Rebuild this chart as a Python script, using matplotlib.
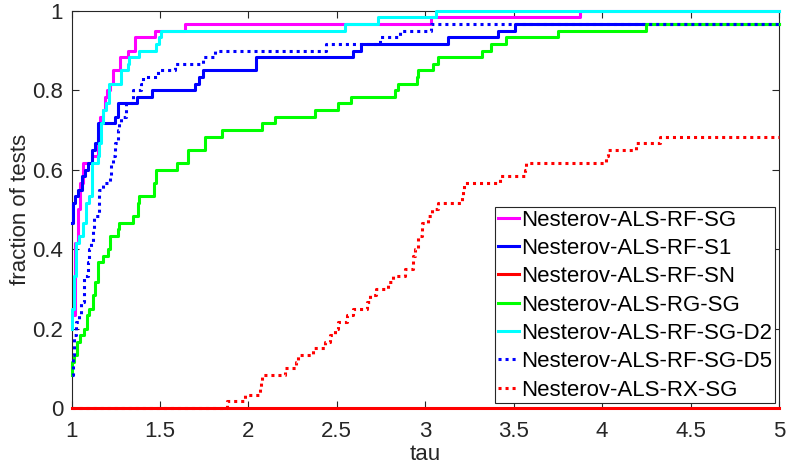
import numpy as np
import matplotlib
matplotlib.use("Agg")
import matplotlib.pyplot as plt

# performance profile, 60 test problems
n_tests = 60
tau_max = 5

tau_rf_sg = [1.0, 1.02, 1.037, 1.048, 1.065, 1.116, 1.15, 1.161, 1.18, 1.19, 1.199,
             1.218, 1.236, 1.274, 1.321, 1.359, 1.472, 1.641, 3.035, 3.877]
cnt_rf_sg = [14, 25, 30, 34, 37, 38, 41, 44, 45, 47, 48,
             49, 51, 53, 54, 56, 57, 58, 59, 60]

tau_rf_s1 = [1.0, 1.006, 1.02, 1.038, 1.057, 1.076, 1.095, 1.114, 1.132, 1.15, 1.246,
             1.265, 1.368, 1.453, 1.70, 1.72, 1.745, 2.042, 2.592, 2.638, 3.13, 3.41, 3.506]
cnt_rf_s1 = [28, 31, 32, 33, 35, 36, 37, 39, 40, 43, 44,
             46, 47, 48, 49, 50, 51, 53, 54, 55, 56, 57, 58]

tau_rf_sn = [1.0]
cnt_rf_sn = [0]

tau_rg_sg = [1.0, 1.005, 1.015, 1.03, 1.05, 1.07, 1.085, 1.1, 1.12, 1.135, 1.15, 1.18,
             1.205, 1.218, 1.26, 1.27, 1.346, 1.375, 1.383, 1.465, 1.475, 1.594, 1.66,
             1.754, 1.849, 2.075, 2.148, 2.376, 2.507, 2.583, 2.828, 2.846, 2.955, 2.96,
             3.044, 3.072, 3.322, 3.37, 3.459, 3.75, 4.25]
cnt_rg_sg = [5, 7, 8, 10, 11, 12, 14, 15, 17, 19, 22, 23,
             24, 26, 27, 28, 29, 31, 32, 34, 36, 37, 39,
             41, 42, 43, 44, 45, 46, 47, 48, 49, 50, 51,
             52, 53, 54, 55, 56, 57, 58]

tau_rf_sg_d2 = [1.0, 1.003, 1.014, 1.025, 1.044, 1.063, 1.082, 1.1, 1.116, 1.148, 1.157,
                1.167, 1.176, 1.195, 1.214, 1.28, 1.318, 1.327, 1.383, 1.477, 1.496,
                1.506, 2.545, 2.733, 3.063]
cnt_rf_sg_d2 = [12, 15, 20, 25, 26, 28, 31, 32, 37, 38, 40,
                43, 45, 46, 49, 51, 52, 53, 54, 55, 56,
                57, 58, 59, 60]

tau_rf_sg_d5 = [1.0, 1.007, 1.014, 1.025, 1.044, 1.054, 1.072, 1.092, 1.1, 1.11, 1.12,
                1.129, 1.157, 1.176, 1.217, 1.225, 1.233, 1.245, 1.262, 1.27, 1.28,
                1.308, 1.346, 1.393, 1.402, 1.487, 1.585, 1.745, 1.81, 2.438, 2.743,
                2.856, 3.035]
cnt_rf_sg_d5 = [5, 8, 11, 13, 14, 16, 20, 22, 24, 25, 27,
                29, 33, 34, 35, 37, 38, 40, 42, 43, 44,
                46, 48, 49, 50, 51, 52, 53, 54, 55, 56,
                57, 58]

tau_rx_sg = [1.0, 1.877, 1.98, 2.065, 2.07, 2.075, 2.206, 2.27, 2.281, 2.366, 2.432,
             2.46, 2.489, 2.507, 2.555, 2.592, 2.668, 2.686, 2.724, 2.79, 2.818,
             2.884, 2.931, 2.94, 2.958, 2.98, 3.014, 3.037, 3.07, 3.21, 3.216, 3.222,
             3.42, 3.565, 3.572, 4.02, 4.033, 4.193, 4.325]
cnt_rx_sg = [0, 1, 2, 3, 4, 5, 6, 7, 8, 9, 10,
             11, 12, 13, 14, 15, 16, 17, 18, 19, 20,
             21, 23, 24, 26, 28, 29, 30, 31, 32, 33, 34,
             35, 36, 37, 38, 39, 40, 41]

names = ["Nesterov-ALS-RF-SG", "Nesterov-ALS-RF-S1", "Nesterov-ALS-RF-SN",
         "Nesterov-ALS-RG-SG", "Nesterov-ALS-RF-SG-D2", "Nesterov-ALS-RF-SG-D5",
         "Nesterov-ALS-RX-SG"]
taus = [tau_rf_sg, tau_rf_s1, tau_rf_sn, tau_rg_sg, tau_rf_sg_d2, tau_rf_sg_d5, tau_rx_sg]
counts = [cnt_rf_sg, cnt_rf_s1, cnt_rf_sn, cnt_rg_sg, cnt_rf_sg_d2, cnt_rf_sg_d5, cnt_rx_sg]
colors = ["#ff00ff", "#0000ff", "#ff0000", "#00ff00", "#00ffff", "#0000ff", "#ff0000"]
dots = (0, (1, 1.3))
styles = ["-", "-", "-", "-", "-", dots, dots]

plt.rcParams["font.family"] = ["Liberation Sans", "DejaVu Sans"]
plt.rcParams["font.size"] = 16

fig = plt.figure(figsize=(7.86, 4.69), dpi=100)
ax = fig.add_axes([0.091, 0.130, 0.900, 0.847])

for t, c, col, ls, name in zip(taus, counts, colors, styles, names):
    x = np.append(t, tau_max)
    y = np.append(c, c[-1]) / n_tests
    ax.step(x, y, where="post", color=col, linestyle=ls, lw=2.2,
            label=name, clip_on=False, zorder=3)

ax.set_xlim(1, 5)
ax.set_ylim(0, 1)
ax.set_xticks([1, 1.5, 2, 2.5, 3, 3.5, 4, 4.5, 5])
ax.set_xticklabels(["1", "1.5", "2", "2.5", "3", "3.5", "4", "4.5", "5"])
ax.set_yticks([0, 0.2, 0.4, 0.6, 0.8, 1])
ax.set_yticklabels(["0", "0.2", "0.4", "0.6", "0.8", "1"])
ax.tick_params(axis="x", pad=9)
ax.tick_params(direction="in", top=True, right=True, length=5, width=0.8,
               colors="0.15", labelsize=16)
ax.tick_params(axis="y", pad=6)
for s in ax.spines.values():
    s.set_color("0.15")
    s.set_linewidth(0.8)

ax.set_xlabel("tau", fontsize=16, color="0.15", labelpad=2)
ax.set_ylabel("fraction of tests", fontsize=16, color="0.15", labelpad=1)

leg = ax.legend(loc="lower right", bbox_to_anchor=(0.994, 0.012), fontsize=16,
                fancybox=False, framealpha=1, edgecolor="0.15", borderpad=0.12,
                labelspacing=0.33, handlelength=0.95, handletextpad=0.1,
                borderaxespad=0)
leg.get_frame().set_linewidth(0.8)
leg.set_zorder(5)

plt.savefig("out.png", dpi=100)
